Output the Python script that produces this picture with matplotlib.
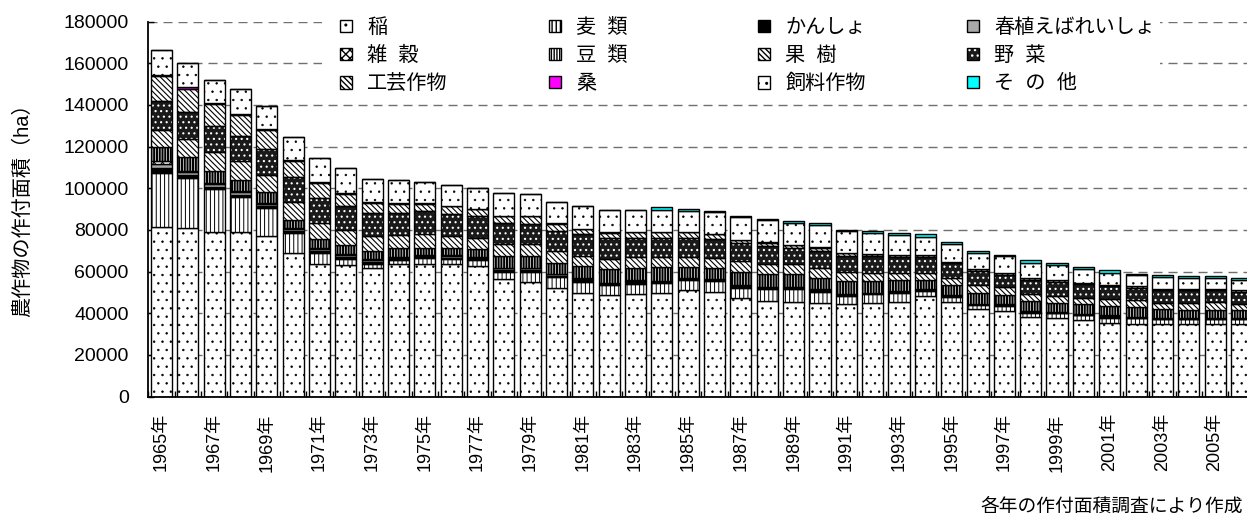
import numpy as np
import matplotlib
matplotlib.use("Agg")
import matplotlib.pyplot as plt
from matplotlib.patches import Patch, Rectangle

years = list(range(1965, 2007))

ine = [81300, 80700, 79100, 79100, 77300, 68900, 63500, 63000, 61900, 63500,
       63800, 63500, 62700, 56300, 55200, 52000, 49900, 48800, 49400, 49900,
       51000, 50400, 47200, 45900, 45600, 45100, 44600, 45100, 45600, 48300,
       45600, 41900, 41100, 38200, 37600, 36600, 35500, 35000, 34700, 34700,
       34700, 34700]
mugi = [26200, 24100, 20400, 16700, 13300, 9700, 5600, 2900, 1900, 2100,
        2900, 2400, 2700, 3700, 4800, 5400, 5300, 4800, 4800, 4800,
        4800, 5100, 5100, 5600, 5800, 5300, 3700, 4000, 4300, 2400,
        2200, 2100, 2400, 2100, 2400, 2400, 2400, 2600, 2300, 2300,
        2300, 2300]
kansho = [2200, 1500, 1300, 1200, 1000, 1000, 1000, 1100, 900, 600,
          500, 800, 700, 800, 800, 700, 700, 500, 700, 400,
          400, 400, 600, 500, 500, 500, 400, 400, 400, 400,
          400, 300, 400, 400, 300, 200, 500, 300, 300, 300,
          300, 300]
haru = [2000, 1300, 1200, 1100, 1000, 900, 900, 1000, 800, 500,
        400, 700, 600, 700, 700, 600, 600, 400, 600, 300,
        400, 300, 500, 400, 500, 400, 300, 300, 300, 300,
        300, 200, 300, 300, 200, 200, 400, 200, 200, 200,
        200, 200]
zakkoku = [1200, 800, 700, 600, 500, 500, 500, 600, 400, 300,
           200, 400, 300, 400, 400, 300, 300, 200, 300, 100,
           200, 100, 200, 200, 200, 200, 100, 100, 100, 100,
           100, 100, 100, 100, 100, 100, 200, 100, 100, 100,
           100, 100]
mame = [6800, 6700, 5700, 5100, 5300, 4000, 4300, 4000, 4000, 4200,
        3700, 3700, 3700, 5600, 5600, 5300, 5900, 6400, 5800, 6700,
        5400, 5300, 6400, 6400, 6100, 5300, 6400, 5600, 5100, 4300,
        4800, 5300, 4300, 4800, 4500, 4800, 4500, 4800, 4300, 3800,
        3800, 3800]
kaju = [8400, 8500, 8800, 9100, 8000, 8400, 7700, 7200, 7200, 6400,
        6700, 5600, 5600, 5900, 5900, 5600, 4800, 4800, 5400, 4800,
        4800, 4800, 5100, 4800, 4800, 4800, 4500, 4000, 3700, 3700,
        3700, 3500, 4000, 3200, 3200, 3200, 3200, 3200, 3200, 3700,
        4200, 3200]
yasai = [13700, 12900, 12900, 12400, 12400, 12100, 12000, 11700, 11200, 10700,
         10900, 10700, 10400, 10100, 9600, 9600, 10400, 10100, 9000, 9300,
         9300, 9100, 8500, 8500, 7700, 8300, 7500, 8000, 7500, 7500,
         6900, 6900, 5800, 6900, 6700, 6400, 6400, 6100, 5900, 5900,
         5400, 5800]
kougei = [12000, 11300, 10200, 9900, 9200, 7700, 6900, 5900, 4800, 4300,
          3500, 3700, 3200, 3200, 3500, 3500, 2400, 2700, 3000, 2700,
          2700, 2400, 1600, 1600, 1600, 1600, 1600, 1000, 1000, 1000,
          600, 800, 1000, 800, 800, 800, 500, 800, 500, 500,
          500, 600]
kuwa = [500, 600, 800, 500, 400, 300, 800, 400, 300, 300,
        300, 200, 200, 200, 200, 200, 200, 200, 200, 100,
        100, 100, 100, 100, 100, 100, 0, 0, 0, 0,
        0, 0, 0, 0, 0, 0, 0, 0, 0, 0,
        0, 0]
shiryou = [12100, 11600, 10800, 12100, 11300, 11300, 11200, 11700, 10900, 10900,
           10200, 10100, 9900, 10600, 10600, 10100, 11200, 10700, 10400, 10700,
           10000, 10600, 10700, 10700, 10600, 10800, 10600, 10100, 9400, 8800,
           8500, 7700, 8000, 7400, 7200, 6300, 5800, 5400, 5700, 5200,
           5200, 4800]
sonota = [0, 0, 0, 0, 0, 0, 0, 0, 0, 0,
          0, 0, 0, 0, 0, 0, 0, 0, 0, 1000,
          1100, 600, 600, 500, 1000, 1000, 500, 1100, 1100, 1400,
          1100, 1100, 400, 1200, 1200, 1200, 1200, 400, 1200, 1200,
          1200, 1200]

labels = ["稲", "麦  類", "かんしょ", "春植えばれいしょ",
          "雑  穀", "豆  類", "果  樹", "野  菜",
          "工芸作物", "桑", "飼料作物", "そ  の  他"]
series = [ine, mugi, kansho, haru, zakkoku, mame, kaju, yasai,
          kougei, kuwa, shiryou, sonota]

# facecolor, hatch, hatch linewidth
styles = [
    ("white", "..", 0.5),
    ("white", "||||", 0.7),
    ("black", "", 0.8),
    ("#a8a8a8", "", 0.8),
    ("white", "xxxx", 0.7),
    ("white", "||||||", 1.5),
    ("white", "\\\\\\\\\\\\", 0.8),
    ("#1a1a1a", "...", 0.8),
    ("white", "\\\\\\\\\\\\", 0.8),
    ("#ff00ff", "", 0.8),
    ("white", "..", 0.5),
    ("#00ffff", "", 0.8),
]

plt.rcParams['font.family'] = ['Liberation Sans', 'Noto Sans CJK JP']
plt.rcParams['font.size'] = 13.5


def hatch_lw(artist, lw):
    if hasattr(artist, "set_hatch_linewidth"):
        artist.set_hatch_linewidth(lw)


W, H = 1247, 519
fig = plt.figure(figsize=(W / 100, H / 100), dpi=100)
ax = fig.add_axes([148.3 / W, (H - 396.5) / H, 42 * 26.34 / W, 374.8 / H])

x = np.arange(len(years))
bottom = np.zeros(len(years))
handles = []
for vals, (fc, hatch, hlw), name in zip(series, styles, labels):
    vals = np.array(vals, dtype=float)
    with plt.rc_context({'hatch.linewidth': hlw}):
        if name == "野  菜":
            # white dots on dark fill, black outline on top
            bars = ax.bar(x, vals, 0.8, bottom=bottom, color=fc, edgecolor="white",
                          hatch=hatch, linewidth=0, zorder=2)
            ax.bar(x, vals, 0.8, bottom=bottom, fill=False, edgecolor="black",
                   linewidth=1.0, zorder=3)
            p = Patch(facecolor=fc, edgecolor="white", hatch=hatch, linewidth=0)
            h = (p, Patch(fill=False, edgecolor="black", linewidth=1.0))
        else:
            bars = ax.bar(x, vals, 0.8, bottom=bottom, color=fc, edgecolor="black",
                          hatch=hatch, linewidth=1.0, zorder=2)
            p = Patch(facecolor=fc, edgecolor="black", hatch=hatch, linewidth=1.0)
            h = p
    for b in bars:
        hatch_lw(b, hlw)
    hatch_lw(p, hlw)
    handles.append(h)
    bottom += vals

ax.set_xlim(-0.5, len(years) - 0.5)
ax.set_ylim(0, 180000)
ax.set_yticks(np.arange(0, 180001, 20000))
ax.yaxis.grid(True, color="#707070", linestyle=(0, (6.5, 4.3)), linewidth=1.0, zorder=0)
ax.set_axisbelow(True)

ax.set_xticks(x[::2])
ax.set_xticklabels([str(y) + "年" for y in years[::2]], rotation=90, fontsize=13)
ax.set_xticks(np.arange(-0.5, len(years), 1), minor=True)
ax.tick_params(axis="x", which="major", length=0, pad=12)
ax.tick_params(axis="x", which="minor", direction="in", length=4, width=1)
ax.tick_params(axis="y", direction="in", length=4, width=1, pad=14, labelsize=14)

for s in ["top", "right"]:
    ax.spines[s].set_visible(False)
ax.spines["left"].set_linewidth(1.3)
ax.spines["bottom"].set_linewidth(1.3)

# white area behind the legend
fig.add_artist(Rectangle((322 / W, (H - 96) / H), (1160 - 322) / W, 88 / H,
                         transform=fig.transFigure, facecolor="white",
                         edgecolor="none", zorder=1))

col_x = [340, 549, 758, 967]
for c in range(4):
    idx = [c, c + 4, c + 8]
    fig.legend([handles[i] for i in idx], [labels[i] for i in idx],
               loc="upper left", bbox_to_anchor=(col_x[c] / W, (H - 18) / H),
               frameon=False, borderpad=0, borderaxespad=0,
               handlelength=0.6, handleheight=0.6, handletextpad=0.75,
               labelspacing=0.45, fontsize=14.5)

fig.text(22 / W, 1 - 205 / H, "農作物の作付面積（ha）", rotation=90,
         ha="center", va="center", fontsize=14.5)
fig.text(1243 / W, 1 - 507 / H, "各年の作付面積調査により作成",
         ha="right", va="center", fontsize=13.5)

fig.savefig("out.png", dpi=100)
